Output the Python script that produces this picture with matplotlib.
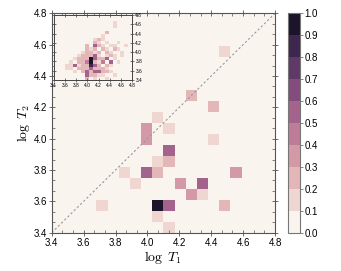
import numpy as np
import matplotlib
matplotlib.use("Agg")
import matplotlib.pyplot as plt
from matplotlib.colors import ListedColormap, BoundaryNorm
from matplotlib.ticker import MultipleLocator, AutoMinorLocator
import seaborn as sns

# main panel: occupied cells (bin centres in log T) and their counts
main_logT1 = [3.995, 3.995, 4.065, 4.275, 4.415, 4.135, 4.415, 4.135, 4.485,
              3.855, 3.995, 4.065, 3.925, 3.715, 4.065, 4.065, 4.065, 4.135,
              4.555, 4.205, 4.345, 4.275, 4.345, 4.135, 4.485, 4.135]
main_logT2 = [4.015, 4.085, 4.155, 4.295, 4.225, 4.085, 4.015, 3.945, 4.575,
              3.785, 3.785, 3.785, 3.715, 3.575, 3.575, 3.505, 3.855, 3.855,
              3.785, 3.715, 3.715, 3.645, 3.645, 3.575, 3.575, 3.435]
main_count = [3, 3, 1, 2, 2, 1, 1, 4, 1,
              1, 4, 2, 1, 1, 8, 1, 1, 2,
              3, 3, 4, 3, 1, 4, 2, 1]

# inset panel: counts per cell, rows from log T2 = 4.8 (top) down to 3.4
inset_counts = [
    [0, 0, 0, 0, 0, 0, 0, 0, 0, 0, 0, 0, 0, 0, 0, 0, 0, 0, 0, 0],
    [0, 0, 0, 0, 0, 0, 0, 0, 0, 0, 0, 0, 0, 0, 0, 0, 0, 0, 0, 0],
    [0, 0, 0, 0, 0, 0, 0, 0, 0, 0, 0, 0, 0, 0, 0, 1, 0, 0, 0, 0],
    [0, 0, 0, 0, 0, 0, 0, 0, 0, 0, 0, 0, 0, 0, 0, 1, 0, 0, 0, 0],
    [0, 0, 0, 0, 0, 0, 0, 0, 0, 0, 0, 0, 0, 0, 0, 0, 0, 0, 0, 0],
    [0, 0, 0, 0, 0, 0, 0, 0, 0, 0, 0, 0, 0, 2, 0, 0, 0, 0, 0, 0],
    [0, 0, 0, 0, 0, 0, 0, 0, 0, 0, 0, 0, 1, 0, 0, 0, 0, 0, 0, 0],
    [0, 0, 0, 0, 0, 0, 0, 0, 0, 0, 1, 2, 1, 0, 0, 0, 0, 0, 0, 0],
    [0, 0, 0, 0, 0, 0, 0, 0, 0, 0, 2, 1, 0, 1, 0, 0, 1, 0, 0, 0],
    [0, 0, 0, 0, 0, 0, 0, 0, 2, 0, 5, 2, 1, 0, 1, 1, 0, 0, 1, 0],
    [0, 0, 0, 0, 0, 0, 0, 0, 3, 1, 2, 0, 3, 1, 0, 2, 1, 0, 0, 0],
    [0, 0, 0, 0, 0, 0, 0, 1, 2, 3, 1, 2, 0, 2, 1, 0, 0, 1, 0, 0],
    [0, 0, 0, 0, 0, 0, 1, 2, 3, 3, 5, 1, 0, 1, 2, 1, 0, 1, 0, 0],
    [0, 0, 0, 0, 0, 1, 2, 2, 3, 10, 5, 2, 3, 5, 0, 1, 0, 0, 0, 0],
    [0, 0, 0, 0, 1, 0, 2, 3, 4, 9, 3, 1, 4, 0, 5, 0, 1, 0, 0, 0],
    [0, 0, 0, 1, 1, 6, 1, 2, 3, 8, 5, 3, 0, 2, 1, 0, 0, 0, 0, 0],
    [0, 0, 0, 1, 1, 0, 2, 3, 2, 6, 3, 2, 2, 1, 0, 0, 0, 0, 0, 0],
    [0, 0, 0, 0, 0, 1, 0, 2, 6, 3, 5, 5, 2, 2, 1, 0, 0, 0, 0, 0],
    [0, 0, 0, 0, 0, 0, 0, 0, 5, 2, 2, 1, 1, 0, 0, 1, 0, 0, 0, 0],
    [0, 0, 0, 0, 0, 0, 0, 0, 2, 0, 1, 0, 0, 1, 0, 0, 0, 0, 0, 0],
]

edges = np.linspace(3.4, 4.8, 21)
levels = np.linspace(0, 1, 11)

plt.rcParams['font.family'] = ['Liberation Sans', 'DejaVu Sans']
plt.rcParams['mathtext.fontset'] = 'cm'

cmap = ListedColormap(sns.cubehelix_palette(10, light=0.96, dark=0.1))
norm = BoundaryNorm(levels, cmap.N)

fig = plt.figure(figsize=(3.41, 2.71), dpi=100)
ax = fig.add_axes([0.1516, 0.1413, 0.6549, 0.8096])
cax = fig.add_axes([0.8446, 0.1413, 0.0337, 0.8096])
axin = fig.add_axes([0.1569, 0.7048, 0.2311, 0.2399])

# main 2d histogram
H, _, _ = np.histogram2d(main_logT1, main_logT2, bins=[edges, edges], weights=main_count)
H = H.T / H.max()
mesh = ax.pcolormesh(edges, edges, H, cmap=cmap, norm=norm)
ax.plot([3.4, 4.8], [3.4, 4.8], ls=(0, (2, 2)), color='#999999', lw=0.8)
ax.set_xlim(3.4, 4.8)
ax.set_ylim(3.4, 4.8)
ax.xaxis.set_major_locator(MultipleLocator(0.2))
ax.yaxis.set_major_locator(MultipleLocator(0.2))
ax.xaxis.set_minor_locator(AutoMinorLocator(3))
ax.yaxis.set_minor_locator(AutoMinorLocator(3))
ax.tick_params(which='major', direction='inout', length=4, width=0.6, color='#555555',
               top=True, right=True, labelsize=7, pad=1.5)
ax.tick_params(which='minor', direction='in', length=2, width=0.5, color='#555555',
               top=True, right=True)
ax.set_xlabel(r'$\log\ T_1$', fontsize=10, labelpad=1)
ax.set_ylabel(r'$\log\ T_2$', fontsize=10, labelpad=1)
for s in ax.spines.values():
    s.set_color('#555555')
    s.set_linewidth(0.8)

# inset
G = np.array(inset_counts, dtype=float)[::-1]
G = G / G.max()
axin.pcolormesh(edges, edges, G, cmap=cmap, norm=norm)
axin.set_xlim(3.4, 4.8)
axin.set_ylim(3.4, 4.8)
axin.xaxis.set_major_locator(MultipleLocator(0.2))
axin.yaxis.set_major_locator(MultipleLocator(0.2))
axin.yaxis.tick_right()
axin.tick_params(which='major', direction='inout', length=2.5, width=0.5, color='#444444',
                 top=True, left=True, labelsize=3.5, pad=1)
for s in axin.spines.values():
    s.set_color('#444444')
    s.set_linewidth(0.7)

# colorbar
cb = fig.colorbar(mesh, cax=cax, ticks=levels, format='%.1f')
cb.outline.set_edgecolor('#777777')
cb.outline.set_linewidth(0.8)
cax.tick_params(length=2, width=0.5, color='#555555', labelsize=7, pad=1.5)

fig.savefig('out.png', dpi=100)
